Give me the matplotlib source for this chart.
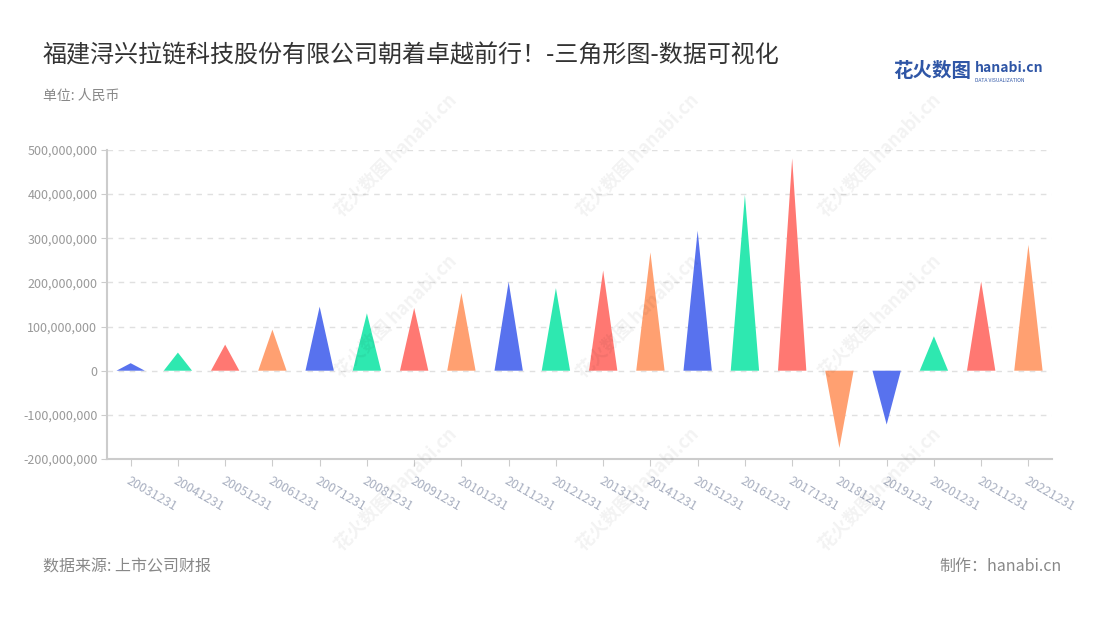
import numpy as np
import matplotlib
matplotlib.use("Agg")
import matplotlib.pyplot as plt
from matplotlib.ticker import FuncFormatter

plt.rcParams['font.family'] = ['Noto Sans CJK SC', 'DejaVu Sans']

# report dates and net profit (yuan)
dates = ["20031231", "20041231", "20051231", "20061231", "20071231",
         "20081231", "20091231", "20101231", "20111231", "20121231",
         "20131231", "20141231", "20151231", "20161231", "20171231",
         "20181231", "20191231", "20201231", "20211231", "20221231"]
values = [17e6, 41e6, 59e6, 93e6, 145e6,
          130e6, 142e6, 176e6, 201e6, 187e6,
          227e6, 268e6, 317e6, 398e6, 481e6,
          -175e6, -122e6, 78e6, 202e6, 285e6]
palette = ["#5872EE", "#2EE8B0", "#FF7872", "#FFA071"]
y_ticks = [-200e6, -100e6, 0, 100e6, 200e6, 300e6, 400e6, 500e6]

title = "福建浔兴拉链科技股份有限公司朝着卓越前行！-三角形图-数据可视化"

fig = plt.figure(figsize=(11, 6.2), dpi=100)
ax = fig.add_axes([0.0973, 0.2597, 0.8591, 0.4984])

half = 0.3
for i, v in enumerate(values):
    ax.fill([i - half, i, i + half], [0, v, 0],
            color=palette[i % len(palette)], lw=0, zorder=3)

ax.set_xlim(-0.5, len(dates) - 0.5)
ax.set_ylim(y_ticks[0], y_ticks[-1])
ax.set_yticks(y_ticks)
ax.yaxis.set_major_formatter(FuncFormatter(lambda v, p: "{:,.0f}".format(v)))
ax.set_xticks(range(len(dates)))
ax.set_xticklabels(dates, rotation=-30, ha="left", va="top",
                   rotation_mode="anchor")

ax.grid(axis="y", color="#E0E0E0", linestyle=(0, (4, 4)), lw=1, zorder=0)
for s in ["top", "right"]:
    ax.spines[s].set_visible(False)
for s in ["left", "bottom"]:
    ax.spines[s].set_color("#CCCCCC")
    ax.spines[s].set_linewidth(1.5)
ax.tick_params(axis="y", colors="#CCCCCC", labelcolor="#999999",
               labelsize=9, length=4, pad=3)
ax.tick_params(axis="x", colors="#CCCCCC", labelcolor="#A8AFC0",
               labelsize=9, length=5, pad=6)

# faint watermark
for wx in [0.36, 0.58, 0.80]:
    for wy in [0.75, 0.49, 0.21]:
        fig.text(wx, wy, "花火数图 hanabi.cn", rotation=45, fontsize=13,
                 color="#000000", alpha=0.05, ha="center", va="center",
                 fontweight="bold")

fig.text(0.039, 0.911, title, fontsize=17.3, color="#333333",
         ha="left", va="center")
fig.text(0.039, 0.845, "单位: 人民币", fontsize=10, color="#888888",
         ha="left", va="center")
fig.text(0.039, 0.086, "数据来源: 上市公司财报", fontsize=11.5, color="#888888",
         ha="left", va="center")
fig.text(0.965, 0.086, "制作：hanabi.cn", fontsize=11.5, color="#888888",
         ha="right", va="center")

# logo
fig.text(0.812, 0.884, "花火数图", fontsize=14, color="#2F56A6",
         ha="left", va="center", fontweight="bold")
fig.text(0.886, 0.890, "hanabi.cn", fontsize=10, color="#2F56A6",
         ha="left", va="center", fontweight="bold")
fig.text(0.886, 0.870, "DATA VISUALIZATION", fontsize=3.6, color="#2F56A6",
         ha="left", va="center")

fig.savefig("out.png", dpi=100, facecolor="white")
